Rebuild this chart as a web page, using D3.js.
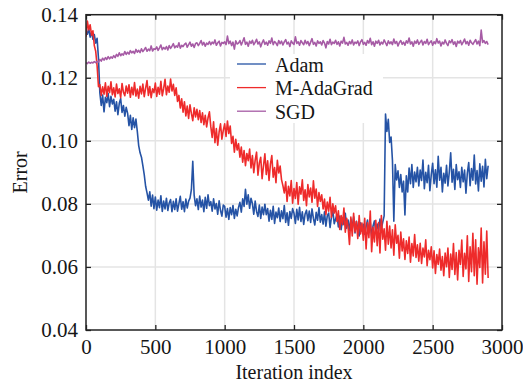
<!DOCTYPE html>
<html>
<head>
<meta charset="utf-8">
<script src="https://cdn.jsdelivr.net/npm/d3@7"></script>
<style>
  body { margin: 0; background: #fff; }
  svg { display: block; }
  text { font-family: "Liberation Serif", "Times New Roman", Times, serif; fill: #161616; }
</style>
</head>
<body>
<svg id="chart" width="523" height="388"></svg>
<script>
// Training error curves, one value every 10 iterations (0 .. 2900)
const seriesNames = ["Adam", "M-AdaGrad", "SGD"];
const seriesColors = ["#2553a5", "#ee2b2b", "#a65ba5"];
const iterStep = 10;
const xTickValues = [0, 500, 1000, 1500, 2000, 2500, 3000];
const yTickValues = [0.04, 0.06, 0.08, 0.10, 0.12, 0.14];
const xTitle = "Iteration index";
const yTitle = "Error";

const adam = [
  .1350,.1338,.1356,.1329,.1346,.1322,.1337,.1310,.1325,.1262,
  .1152,.1112,.1145,.1092,.1138,.1121,.1150,.1108,.1141,.1117,
  .1132,.1094,.1124,.1083,.1119,.1134,.1090,.1112,.1078,.1106,
  .1088,.1048,.1081,.1036,.1073,.1042,.1069,.1030,.0985,.0962,
  .0948,.0921,.0893,.0856,.0835,.0812,.0838,.0793,.0828,.0785,
  .0822,.0780,.0812,.0788,.0826,.0776,.0809,.0784,.0818,.0779,
  .0803,.0814,.0775,.0808,.0782,.0816,.0777,.0801,.0824,.0783,
  .0807,.0775,.0815,.0787,.0809,.0818,.0845,.0935,.0828,.0794,
  .0816,.0782,.0825,.0790,.0812,.0775,.0821,.0786,.0829,.0794,
  .0807,.0777,.0816,.0784,.0801,.0767,.0810,.0779,.0761,.0796,
  .0792,.0758,.0785,.0751,.0788,.0766,.0795,.0754,.0783,.0762,
  .0789,.0805,.0774,.0816,.0792,.0846,.0799,.0829,.0786,.0818,
  .0801,.0767,.0809,.0776,.0760,.0796,.0754,.0790,.0766,.0799,
  .0766,.0785,.0745,.0780,.0751,.0792,.0738,.0774,.0756,.0787,
  .0744,.0778,.0753,.0795,.0741,.0772,.0732,.0776,.0754,.0785,
  .0770,.0738,.0783,.0749,.0789,.0744,.0775,.0735,.0768,.0780,
  .0747,.0777,.0741,.0784,.0754,.0733,.0773,.0748,.0788,.0742,
  .0766,.0736,.0775,.0729,.0762,.0771,.0725,.0758,.0779,.0737,
  .0752,.0766,.0727,.0761,.0718,.0755,.0734,.0770,.0723,.0749,
  .0715,.0752,.0724,.0759,.0708,.0745,.0721,.0698,.0740,.0714,
  .0735,.0704,.0728,.0749,.0709,.0742,.0697,.0730,.0746,.0711,
  .0736,.0715,.0752,.0721,.0742,.0762,.1085,.1030,.1068,.0995,
  .1012,.0938,.0745,.0925,.0876,.0905,.0852,.0893,.0838,.0872,
  .0765,.0889,.0838,.0914,.0864,.0925,.0852,.0901,.0870,.0916,
  .0857,.0907,.0874,.0939,.0848,.0900,.0867,.0922,.0842,.0893,
  .0929,.0864,.0908,.0853,.0951,.0875,.0916,.0838,.0897,.0866,
  .0922,.0857,.0901,.0962,.0869,.0910,.0846,.0925,.0877,.0902,
  .0852,.0916,.0870,.0907,.0834,.0898,.0931,.0858,.0912,.0875,
  .0955,.0863,.0906,.0841,.0927,.0872,.0919,.0854,.0941,.0880,
  .0921
];

const mAdaGrad = [
  .1330,.1380,.1352,.1368,.1335,.1349,.1302,.1284,.1238,.1172,
  .1178,.1144,.1171,.1148,.1184,.1141,.1173,.1153,.1187,.1146,
  .1168,.1139,.1180,.1150,.1165,.1137,.1182,.1154,.1143,.1174,
  .1151,.1178,.1138,.1170,.1146,.1185,.1142,.1164,.1135,.1173,
  .1149,.1180,.1140,.1167,.1191,.1144,.1172,.1137,.1165,.1153,
  .1183,.1141,.1170,.1148,.1189,.1143,.1166,.1195,.1146,.1174,
  .1154,.1196,.1158,.1179,.1144,.1168,.1125,.1144,.1104,.1133,
  .1091,.1124,.1079,.1110,.1071,.1114,.1087,.1064,.1105,.1076,
  .1100,.1067,.1096,.1058,.1089,.1051,.1081,.1044,.1073,.1092,
  .1045,.1011,.1060,.0994,.1039,.0986,.1028,.1054,.1005,.1033,
  .1054,.1014,.1063,.1023,.1047,.0992,.1014,.0964,.1005,.0971,
  .0991,.0948,.0980,.0932,.0969,.0921,.0960,.0937,.0974,.0914,
  .0953,.0899,.0939,.0964,.0891,.0930,.0948,.0880,.0921,.0959,
  .0893,.0937,.0874,.0926,.0953,.0885,.0915,.0867,.0938,.0898,
  .0920,.0877,.0858,.0835,.0870,.0808,.0856,.0825,.0874,.0802,
  .0849,.0817,.0868,.0799,.0854,.0831,.0876,.0811,.0845,.0794,
  .0861,.0822,.0850,.0805,.0873,.0818,.0847,.0792,.0836,.0808,
  .0829,.0784,.0815,.0766,.0806,.0777,.0821,.0758,.0800,.0771,
  .0794,.0744,.0778,.0719,.0763,.0734,.0787,.0710,.0754,.0727,
  .0671,.0758,.0698,.0770,.0711,.0744,.0690,.0763,.0705,.0739,
  .0685,.0754,.0657,.0740,.0693,.0777,.0648,.0726,.0679,.0748,
  .0667,.0741,.0644,.0763,.0688,.0721,.0653,.0745,.0672,.0730,
  .0660,.0718,.0637,.0734,.0675,.0700,.0628,.0711,.0651,.0689,
  .0624,.0683,.0643,.0695,.0615,.0674,.0635,.0703,.0630,.0670,
  .0618,.0675,.0611,.0660,.0632,.0686,.0604,.0653,.0623,.0664,
  .0597,.0651,.0579,.0639,.0608,.0657,.0590,.0633,.0572,.0644,
  .0601,.0660,.0567,.0641,.0592,.0674,.0576,.0646,.0559,.0653,
  .0608,.0685,.0570,.0643,.0594,.0699,.0554,.0664,.0585,.0707,
  .0572,.0686,.0545,.0661,.0598,.0723,.0549,.0680,.0577,.0714,
  .0565
];

const sgd = [
  .1248,.1245,.1250,.1246,.1249,.1247,.1251,.1248,.1252,.1250,
  .1258,.1253,.1262,.1256,.1264,.1258,.1267,.1260,.1266,.1262,
  .1270,.1264,.1274,.1268,.1279,.1270,.1276,.1272,.1283,.1274,
  .1281,.1275,.1286,.1279,.1284,.1277,.1290,.1281,.1287,.1280,
  .1292,.1283,.1289,.1296,.1284,.1291,.1286,.1301,.1285,.1292,
  .1290,.1298,.1287,.1295,.1304,.1289,.1296,.1291,.1299,.1288,
  .1302,.1293,.1300,.1308,.1295,.1301,.1297,.1311,.1294,.1303,
  .1299,.1306,.1310,.1297,.1305,.1313,.1300,.1307,.1296,.1309,
  .1311,.1302,.1309,.1318,.1304,.1312,.1300,.1310,.1306,.1315,
  .1305,.1313,.1308,.1320,.1303,.1311,.1316,.1301,.1312,.1309,
  .1314,.1305,.1332,.1308,.1316,.1302,.1313,.1291,.1317,.1307,
  .1310,.1318,.1304,.1315,.1327,.1306,.1313,.1300,.1316,.1309,
  .1319,.1305,.1312,.1322,.1307,.1314,.1298,.1311,.1320,.1306,
  .1313,.1303,.1317,.1309,.1326,.1305,.1315,.1310,.1302,.1318,
  .1308,.1316,.1304,.1314,.1321,.1307,.1313,.1299,.1317,.1310,
  .1306,.1330,.1309,.1314,.1303,.1318,.1311,.1305,.1319,.1308,
  .1315,.1302,.1313,.1324,.1306,.1312,.1301,.1317,.1309,.1314,
  .1304,.1318,.1310,.1295,.1315,.1307,.1322,.1305,.1313,.1309,
  .1319,.1306,.1314,.1301,.1316,.1310,.1328,.1307,.1312,.1303,
  .1315,.1308,.1320,.1304,.1313,.1309,.1317,.1302,.1314,.1321,
  .1306,.1312,.1303,.1318,.1310,.1325,.1305,.1314,.1300,.1316,
  .1309,.1319,.1304,.1313,.1307,.1320,.1311,.1302,.1317,.1308,
  .1314,.1305,.1323,.1309,.1315,.1301,.1312,.1318,.1306,.1313,
  .1303,.1317,.1310,.1326,.1307,.1314,.1300,.1316,.1309,.1320,
  .1306,.1313,.1319,.1304,.1315,.1309,.1322,.1305,.1312,.1317,
  .1303,.1314,.1308,.1324,.1310,.1316,.1301,.1313,.1307,.1320,
  .1309,.1302,.1317,.1311,.1321,.1306,.1314,.1299,.1316,.1310,
  .1318,.1305,.1313,.1323,.1308,.1315,.1303,.1319,.1311,.1306,
  .1314,.1321,.1307,.1316,.1302,.1351,.1312,.1318,.1309,.1315,
  .1305
];

const seriesValues = [adam, mAdaGrad, sgd];

const fontStack = '"Liberation Serif", "Times New Roman", Times, serif';
const svg = d3.select("#chart");
const plot = { left: 86, right: 502, top: 14.7, bottom: 330 };

const x = d3.scaleLinear().domain([0, 3000]).range([plot.left, plot.right]);
const y = d3.scaleLinear().domain([0.04, 0.14]).range([plot.bottom, plot.top]);

// grid
const grid = svg.append("g").attr("stroke", "#e4e4e4").attr("stroke-width", 1.5);
grid.selectAll(".gx").data(xTickValues.slice(1, -1)).join("line")
  .attr("x1", d => x(d)).attr("x2", d => x(d))
  .attr("y1", plot.top).attr("y2", plot.bottom);
grid.selectAll(".gy").data(yTickValues.slice(1, -1)).join("line")
  .attr("x1", plot.left).attr("x2", plot.right)
  .attr("y1", d => y(d)).attr("y2", d => y(d));

// data lines
svg.append("defs").append("clipPath").attr("id", "plot-clip")
  .append("rect").attr("x", plot.left).attr("y", plot.top)
  .attr("width", plot.right - plot.left).attr("height", plot.bottom - plot.top);

const line = d3.line().x((d, i) => x(i * iterStep)).y(d => y(d));
const lines = svg.append("g").attr("clip-path", "url(#plot-clip)");
seriesValues.forEach((vals, k) => {
  lines.append("path").datum(vals)
    .attr("d", line)
    .attr("fill", "none")
    .attr("stroke", seriesColors[k])
    .attr("stroke-width", 1.6)
    .attr("stroke-linejoin", "round");
});

// axes with inward ticks on all four sides
const fmtY = d3.format(".2f");
const fmtX = d3.format("d");
const axisStyle = g => {
  g.attr("font-family", fontStack);
  g.select(".domain").remove();
  g.selectAll(".tick line").attr("stroke", "#222").attr("stroke-width", 1.3);
  g.selectAll(".tick text").attr("font-size", 21).attr("fill", "#161616")
    .style("font-family", fontStack);
};
svg.append("g").attr("transform", `translate(0,${plot.bottom})`)
  .call(d3.axisBottom(x).tickValues(xTickValues).tickFormat(fmtX).tickSizeInner(-5).tickSizeOuter(0).tickPadding(9))
  .call(axisStyle);
svg.append("g").attr("transform", `translate(${plot.left},0)`)
  .call(d3.axisLeft(y).tickValues(yTickValues).tickFormat(fmtY).tickSizeInner(-5).tickSizeOuter(0).tickPadding(8))
  .call(axisStyle);
svg.append("g").attr("transform", `translate(0,${plot.top})`)
  .call(d3.axisTop(x).tickValues(xTickValues).tickFormat("").tickSizeInner(-5).tickSizeOuter(0))
  .call(axisStyle);
svg.append("g").attr("transform", `translate(${plot.right},0)`)
  .call(d3.axisRight(y).tickValues(yTickValues).tickFormat("").tickSizeInner(-5).tickSizeOuter(0))
  .call(axisStyle);

// frame
svg.append("rect")
  .attr("x", plot.left).attr("y", plot.top)
  .attr("width", plot.right - plot.left).attr("height", plot.bottom - plot.top)
  .attr("fill", "none").attr("stroke", "#222").attr("stroke-width", 1.5);

// legend
const legend = svg.append("g");
legend.append("rect").attr("x", 230).attr("y", 54).attr("width", 153).attr("height", 69).attr("fill", "#fff");
seriesNames.forEach((name, k) => {
  const ly = 64 + k * 23.6;
  legend.append("line").attr("x1", 237).attr("x2", 266).attr("y1", ly).attr("y2", ly)
    .attr("stroke", seriesColors[k]).attr("stroke-width", 1.3);
  legend.append("text").attr("x", 275).attr("y", ly + 7.5).attr("font-size", 20).text(name);
});

// axis titles
svg.append("text").attr("x", (plot.left + plot.right) / 2).attr("y", 379)
  .attr("text-anchor", "middle").attr("font-size", 20).text(xTitle);
svg.append("text").attr("transform", `translate(27,${(plot.top + plot.bottom) / 2}) rotate(-90)`)
  .attr("text-anchor", "middle").attr("font-size", 20).text(yTitle);
</script>
</body>
</html>
